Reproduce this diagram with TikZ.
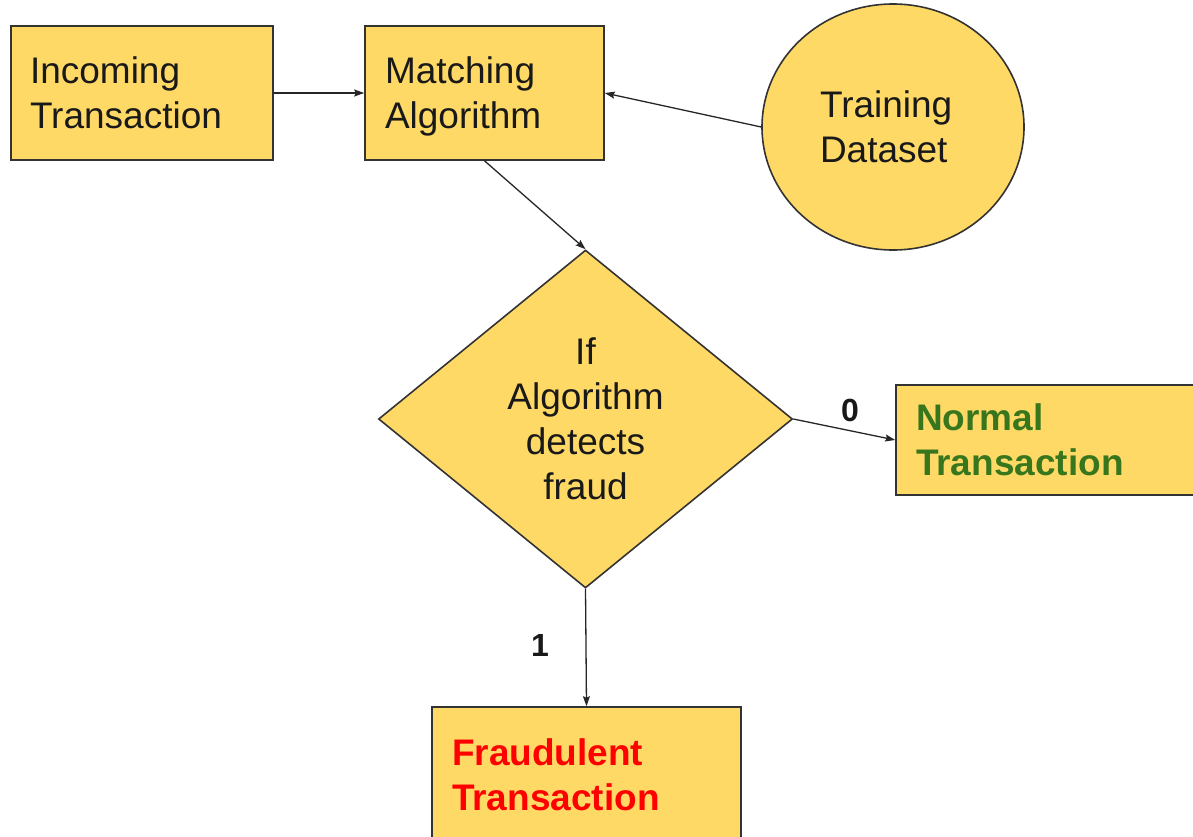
\documentclass[tikz,border=0pt]{standalone}
\usepackage{fontspec}
\setmainfont{Liberation Sans}
\usetikzlibrary{shapes.geometric,arrows.meta}
\definecolor{boxfill}{HTML}{FFD966}
\definecolor{edgecol}{HTML}{333333}
\definecolor{okgreen}{HTML}{38761D}
\definecolor{alertred}{HTML}{FF0000}
\begin{document}
\begin{tikzpicture}[x=1pt,y=-1pt,
  every node/.style={font=\fontsize{37}{45}\selectfont},
  shapebox/.style={draw=edgecol, line width=1.6pt, fill=boxfill, text=black!90, inner ysep=0pt},
  rectbox/.style={shapebox, rectangle, align=left},
  boldtext/.style={font=\fontsize{37}{45}\selectfont\bfseries},
  arrowline/.style={draw=black!85, line width=1.3pt, -{Stealth[length=10pt,width=7pt,inset=1.5pt]}},
  lbl/.style={font=\fontsize{32}{38}\selectfont\bfseries, text=black!90, inner sep=0pt}]

\useasboundingbox (0,0) rectangle (1193,836);
\clip (0,0) rectangle (1193,836);

\node[rectbox, minimum width=262pt, minimum height=134pt, inner xsep=19pt, text width=224pt] (inc) at (142,93) {Incoming\\Transaction};
\node[rectbox, minimum width=239pt, minimum height=134pt, inner xsep=20pt, text width=199pt] (match) at (484.5,93) {Matching\\Al\smash{g}orithm};
\node[shapebox, ellipse, minimum width=262pt, minimum height=246pt, inner sep=0pt, align=left, text width=146pt] (train) at (893,127) {Training\\Dataset};
\node[shapebox, diamond, minimum width=414pt, minimum height=338pt, inner sep=0pt, align=center] (dec) at (585.5,419) {If\\Algorithm\\detects\\fraud};
\node[rectbox, boldtext, text=okgreen, minimum width=304pt, minimum height=110pt, inner xsep=20pt, text width=264pt] (norm) at (1048,440) {Normal\\Transaction};
\node[rectbox, boldtext, text=alertred, minimum width=309pt, minimum height=135pt, inner xsep=20pt, text width=269pt] (fraud) at (586.5,774.5) {Fraudulent\\Transaction};

\draw[arrowline] (inc.east) -- (match.west);
\draw[arrowline] (train.west) -- (match.east);
\draw[arrowline] (match.south) -- (dec.north);
\draw[arrowline] (dec.east) -- (norm.west);
\draw[arrowline] (dec.south) -- (fraud.north);

\node[lbl] (lzero) at (850,410) {0};
\node[lbl] (lone) at (540,645) {1};
\end{tikzpicture}
\end{document}
